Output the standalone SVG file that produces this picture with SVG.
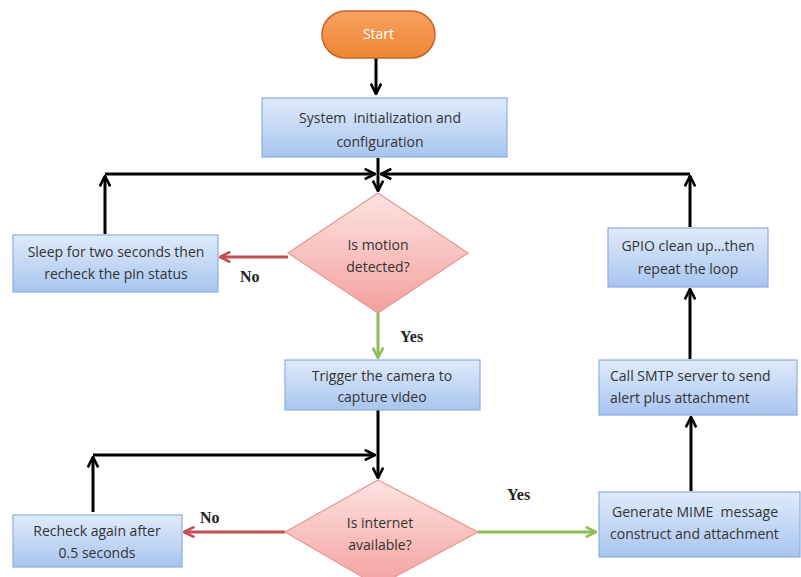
<svg xmlns="http://www.w3.org/2000/svg" width="801" height="577" viewBox="0 0 801 577">
<defs>
<linearGradient id="gBox" x1="0" y1="0" x2="0" y2="1">
<stop offset="0" stop-color="#e0ebfb"/><stop offset="1" stop-color="#a8c5f0"/>
</linearGradient>
<linearGradient id="gDia" x1="0" y1="0" x2="0" y2="1">
<stop offset="0" stop-color="#fde3e1"/><stop offset="1" stop-color="#f3a19e"/>
</linearGradient>
<linearGradient id="gStart" x1="0" y1="0" x2="0" y2="1">
<stop offset="0" stop-color="#f7a25e"/><stop offset="1" stop-color="#ef8535"/>
</linearGradient>
<marker id="aBlk" viewBox="0 0 10 10" refX="9" refY="5" markerWidth="4.3" markerHeight="4.3" orient="auto" markerUnits="strokeWidth">
<path d="M1,1 L9,5 L1,9" fill="none" stroke="#000" stroke-width="2"/>
</marker>
<marker id="aRed" viewBox="0 0 10 10" refX="9" refY="5" markerWidth="4.3" markerHeight="4.3" orient="auto" markerUnits="strokeWidth">
<path d="M1,1 L9,5 L1,9" fill="none" stroke="#c0504d" stroke-width="2"/>
</marker>
<marker id="aGrn" viewBox="0 0 10 10" refX="9" refY="5" markerWidth="4.3" markerHeight="4.3" orient="auto" markerUnits="strokeWidth">
<path d="M1,1 L9,5 L1,9" fill="none" stroke="#8fbd56" stroke-width="2"/>
</marker>
</defs>
<style>
.box{fill:url(#gBox);stroke:#8eaee0;stroke-width:1.2}
.dia{fill:url(#gDia);stroke:#e39894;stroke-width:1.2}
.t{font-family:"Open Sans","Liberation Sans",sans-serif;font-size:14px;fill:#333;text-anchor:middle;white-space:pre}
.lbl{font-family:"Liberation Serif",serif;font-size:16px;font-weight:bold;fill:#222}
.blk{fill:none;stroke:#000;stroke-width:3}
.red{fill:none;stroke:#c0504d;stroke-width:3}
.grn{fill:none;stroke:#8fbd56;stroke-width:3}
</style>
<rect width="801" height="577" fill="#fff"/>
<g id="connectors">
<path class="blk" d="M376,58 L376,94" marker-end="url(#aBlk)"/>
<path class="blk" d="M378,158 L378,191" marker-end="url(#aBlk)"/>
<path class="blk" d="M105,234 L105,176" marker-end="url(#aBlk)"/>
<path class="blk" d="M105,174 L375,174" marker-end="url(#aBlk)"/>
<path class="blk" d="M690,174 L381,174" marker-end="url(#aBlk)"/>
<path class="blk" d="M690,227 L690,176" marker-end="url(#aBlk)"/>
<path class="blk" d="M690,359 L690,289" marker-end="url(#aBlk)"/>
<path class="blk" d="M691,491 L691,417" marker-end="url(#aBlk)"/>
<path class="red" d="M288,257 L220,257" marker-end="url(#aRed)"/>
<path class="grn" d="M378,313 L378,358" marker-end="url(#aGrn)"/>
<path class="blk" d="M378,410 L378,478" marker-end="url(#aBlk)"/>
<path class="blk" d="M93,512 L93,457" marker-end="url(#aBlk)"/>
<path class="blk" d="M93,455 L375,455" marker-end="url(#aBlk)"/>
<path class="red" d="M285,532 L184,532" marker-end="url(#aRed)"/>
<path class="grn" d="M478,532 L596,532" marker-end="url(#aGrn)"/>
<text class="lbl" x="240" y="282">No</text>
<text class="lbl" x="400" y="342">Yes</text>
<text class="lbl" x="200" y="523">No</text>
<text class="lbl" x="507" y="500">Yes</text>
</g>
<g id="start">
<rect x="322" y="11" width="113" height="47" rx="23.5" fill="url(#gStart)" stroke="#c8642a" stroke-width="1.5"/>
<text class="t" x="378.5" y="39" style="fill:#fff">Start</text>
</g>
<g id="init">
<rect class="box" x="262" y="98" width="245" height="59"/>
<text class="t" x="380" y="123" xml:space="preserve">System  initialization and</text>
<text class="t" x="380" y="147">configuration</text>
</g>
<g id="motion">
<polygon class="dia" points="378,193 468,253 378,313 288,253"/>
<text class="t" x="378" y="250">Is motion</text>
<text class="t" x="378" y="272">detected?</text>
</g>
<g id="sleep">
<rect class="box" x="13" y="235" width="205" height="57"/>
<text class="t" x="116" y="257">Sleep for two seconds then</text>
<text class="t" x="116" y="279">recheck the pin status</text>
</g>
<g id="gpio">
<rect class="box" x="608" y="228" width="160" height="59"/>
<text class="t" x="688" y="251">GPIO clean up…then</text>
<text class="t" x="688" y="274">repeat the loop</text>
</g>
<g id="trigger">
<rect class="box" x="285" y="360" width="195" height="50"/>
<text class="t" x="382" y="381">Trigger the camera to</text>
<text class="t" x="382" y="402">capture video</text>
</g>
<g id="smtp">
<rect class="box" x="599" y="360" width="198" height="55"/>
<text class="t" x="610" y="381" style="text-anchor:start">Call SMTP server to send</text>
<text class="t" x="610" y="403" style="text-anchor:start">alert plus attachment</text>
</g>
<g id="internet">
<polygon class="dia" points="378,480 478,532 378,586 285,532"/>
<text class="t" x="380" y="528">Is internet</text>
<text class="t" x="380" y="550">available?</text>
</g>
<g id="recheck">
<rect class="box" x="13" y="515" width="169" height="52"/>
<text class="t" x="97" y="536">Recheck again after</text>
<text class="t" x="97" y="558">0.5 seconds</text>
</g>
<g id="mime">
<rect class="box" x="599" y="492" width="201" height="65"/>
<text class="t" x="612" y="517" style="text-anchor:start" xml:space="preserve">Generate MIME  message</text>
<text class="t" x="610" y="539" style="text-anchor:start">construct and attachment</text>
</g>
</svg>
